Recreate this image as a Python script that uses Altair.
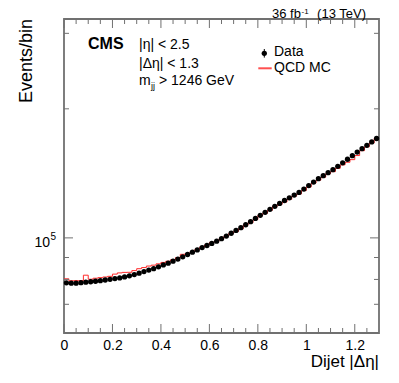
import altair as alt
import pandas as pd

# ---- data ----
bin_edges = [round(0.02 * i, 2) for i in range(66)]
bin_centers = [round(0.01 + 0.02 * i, 2) for i in range(65)]

data_counts = [
    78560, 78390, 78430, 78600, 78810, 79020, 79230, 79490, 79750, 80050,
    80350, 80660, 81090, 81570, 82100, 82720, 83440, 84140, 84770, 85600,
    86480, 87280, 88220, 89220, 90340, 91460, 92600, 93750, 94920, 96000,
    97080, 98240, 99570, 100970, 102510, 104060, 105640, 107300, 109100, 111000,
    112870, 114710, 116570, 118470, 120330, 122230, 124020, 125840, 127680, 129970,
    132440, 134960, 137450, 139690, 141960, 144270, 146860, 149620, 152550, 155530,
    158580, 161500, 164400, 167430, 170520,
]
mc_counts = [
    80270, 79450, 79490, 79450, 81840, 80090, 80520, 80780, 81050, 81350,
    82320, 82860, 83080, 83120, 83890, 84750, 85260, 85970, 86380, 86990,
    87650, 88220, 88930, 89940, 91560, 91950, 92850, 94000, 95180, 96260,
    97600, 98240, 99570, 100970, 102510, 103500, 105070, 107300, 108520, 110410,
    112870, 114100, 115950, 118470, 119690, 121250, 123020, 125170, 126650, 128930,
    131380, 134240, 136350, 138570, 141200, 142730, 145290, 148020, 150110, 152220,
    155620, 159770, 163080, 166530, 170520,
]

x_major = [0, 0.2, 0.4, 0.6, 0.8, 1.0, 1.2]
x_minor = [0.05, 0.1, 0.15, 0.25, 0.3, 0.35, 0.45, 0.5, 0.55, 0.65, 0.7, 0.75,
           0.85, 0.9, 0.95, 1.05, 1.1, 1.15, 1.25]
y_major = [100000]
y_minor = [70000, 80000, 90000, 200000, 300000]

# ---- layout ----
W, H = 315, 314
FONT = "Liberation Sans"
FRAME = "#707070"

df_data = pd.DataFrame({"x": bin_centers, "v": data_counts})
df_mc = pd.DataFrame({"x": bin_edges, "v": mc_counts + [mc_counts[-1]]})
one = pd.DataFrame({"a": [0]})

xscale = alt.Scale(domain=[0, 1.3], nice=False, zero=False)
yscale = alt.Scale(type="log", domain=[60000, 324000], nice=False)

xaxis = alt.Axis(values=x_major, format=".1~f", ticks=False, domain=False, grid=False,
                 labelFontSize=14, labelFont=FONT, labelColor="black", labelPadding=5,
                 labelFlush=False, title=None)


def X(field):
    return alt.X(field, type="quantitative", scale=xscale, axis=xaxis)


def Y(field):
    return alt.Y(field, type="quantitative", scale=yscale, axis=None)


mc = alt.Chart(df_mc).mark_line(interpolate="step-after", color="#ff2a2a", strokeWidth=1).encode(
    x=X("x"), y=Y("v"))
pts = alt.Chart(df_data).mark_circle(size=28, color="black", opacity=1).encode(
    x=X("x"), y=Y("v"))

layers = [mc, pts]

# ticks (inward, all four sides)
def xticks(vals, length):
    d = pd.DataFrame({"x": vals})
    b = alt.Chart(d).mark_rule(color=FRAME, strokeWidth=1).encode(
        x=X("x"), y=alt.value(H), y2=alt.value(H - length))
    t = alt.Chart(d).mark_rule(color=FRAME, strokeWidth=1).encode(
        x=X("x"), y=alt.value(0), y2=alt.value(length))
    return [b, t]


def yticks(vals, length):
    d = pd.DataFrame({"v": vals})
    l = alt.Chart(d).mark_rule(color=FRAME, strokeWidth=1).encode(
        y=Y("v"), x=alt.value(0), x2=alt.value(length))
    r = alt.Chart(d).mark_rule(color=FRAME, strokeWidth=1).encode(
        y=Y("v"), x=alt.value(W), x2=alt.value(W - length))
    return [l, r]


layers += xticks(x_major, 9) + xticks(x_minor, 5) + yticks(y_major, 9) + yticks(y_minor, 5)

# y tick label 10^5
ylab = pd.DataFrame({"v": y_major})
layers.append(alt.Chart(ylab).mark_text(text="10", align="right", baseline="alphabetic", dy=9,
                                          font=FONT, fontSize=14, color="black").encode(
    y=Y("v"), x=alt.value(-14)))
layers.append(alt.Chart(ylab).mark_text(text="5", align="left", baseline="alphabetic", dy=2.5,
                                          font=FONT, fontSize=10, color="black").encode(
    y=Y("v"), x=alt.value(-13.5)))


def txt(s, x, y, size=14, align="left", bold=False, angle=0, color="black"):
    kw = dict(text=s, align=align, baseline="alphabetic", font=FONT, fontSize=size, color=color)
    if bold:
        kw["fontWeight"] = "bold"
    if angle:
        kw["angle"] = angle
    return alt.Chart(one).mark_text(**kw).encode(x=alt.value(x), y=alt.value(y))


layers += [
    txt("CMS", 24, 29.5, size=16, bold=True),
    txt("|η| < 2.5", 75, 30),
    txt("|Δη| < 1.3", 75, 48.7),
    txt("m", 75, 66),
    txt("jj", 87, 70, size=9),
    txt("> 1246 GeV", 95, 66),
    txt("Data", 210, 37),
    txt("QCD MC", 210, 52.7),
    txt("36 fb", 208, -1, size=13),
    txt("-1", 237.5, -5, size=8),
    txt("(13 TeV)", 302, -1, size=13, align="right"),
    txt("Dijet |Δη|", W, 347.5, size=17, align="right"),
    txt("Events/bin", -32.5, 0, size=18, align="right", angle=270),
]

# legend symbols
layers.append(alt.Chart(one).mark_circle(size=28, color="black", opacity=1).encode(
    x=alt.value(200.3), y=alt.value(34.3)))
layers.append(alt.Chart(one).mark_rule(color="black", strokeWidth=1).encode(
    x=alt.value(200.3), y=alt.value(30), y2=alt.value(38.6)))
layers.append(alt.Chart(one).mark_rule(color="#ff5050", strokeWidth=2).encode(
    x=alt.value(194.3), x2=alt.value(207.7), y=alt.value(49.3)))

chart = alt.layer(*layers).properties(
    width=W, height=H,
    padding={"left": 56, "top": 11, "right": 10, "bottom": 40},
    autosize=alt.AutoSizeParams(type="none"),
).configure_view(stroke=FRAME, strokeWidth=1.8)

chart.save("out.html", embed_options={"renderer": "svg", "actions": False})
